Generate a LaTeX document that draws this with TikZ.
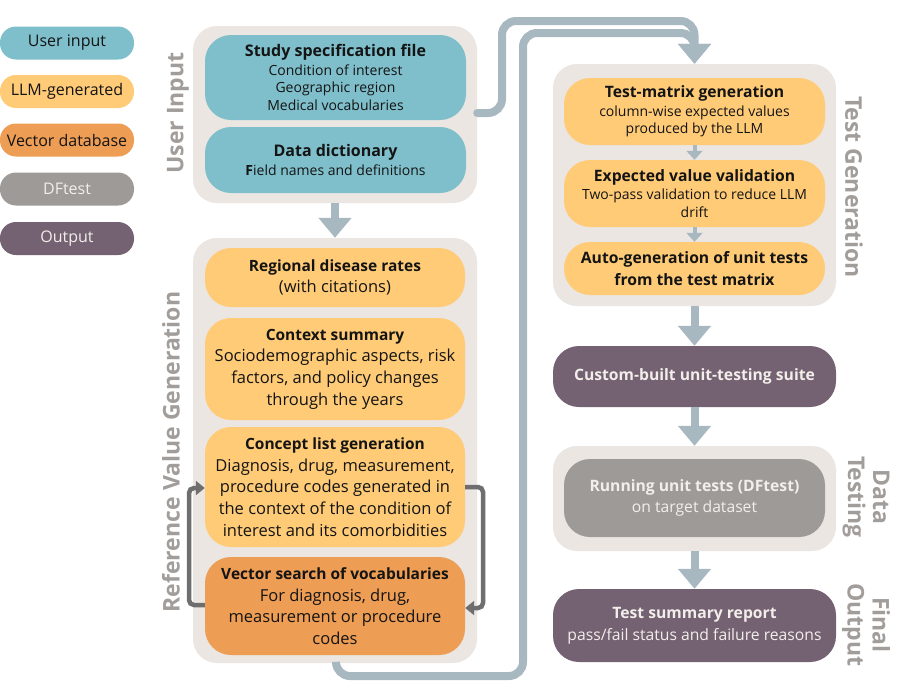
\documentclass[tikz,border=0pt]{standalone}
\usepackage{fontspec}
\setmainfont{Open Sans}
\usetikzlibrary{arrows.meta}
\definecolor{cteal}{RGB}{127,191,203}
\definecolor{cyellow}{RGB}{255,203,119}
\definecolor{corange}{RGB}{238,157,84}
\definecolor{cgray}{RGB}{158,154,151}
\definecolor{cpurple}{RGB}{116,97,114}
\definecolor{cpanel}{RGB}{235,230,226}
\definecolor{carrow}{RGB}{168,184,193}
\definecolor{clabel}{RGB}{161,157,154}
\definecolor{cloop}{RGB}{110,110,110}
\definecolor{ctext}{RGB}{20,20,20}
\definecolor{cwhite}{RGB}{242,238,234}
\tikzset{
  legendpill/.style={rounded corners=16pt, minimum width=134pt, minimum height=33pt, inner sep=0pt, font=\fontsize{16}{18}\selectfont},
  panel/.style={fill=cpanel, rounded corners=24pt, inner sep=0pt},
  box/.style={rounded corners=26pt, inner sep=0pt, align=center, text=ctext},
  bigtxt/.style={font=\fontsize{16.5}{21.7}\selectfont},
  midtxt/.style={font=\fontsize{15.7}{21.7}\selectfont},
  smalltxt/.style={font=\fontsize{14}{17.5}\selectfont},
  vlabel/.style={text=clabel, align=center, font=\bfseries\fontsize{23}{25}\selectfont},
  bigarrow/.style={draw=carrow, line width=8pt, -{Triangle[width=32pt,length=20pt]}},
  smallarrow/.style={draw=carrow, line width=4pt, -{Triangle[width=16pt,length=9pt]}},
  conn/.style={draw=carrow, line width=8pt, rounded corners=14pt, line cap=round, -{Triangle[width=32pt,length=20pt]}},
  loop/.style={draw=cloop, line width=4.5pt, rounded corners=5pt, -{Triangle[width=14pt,length=9pt]}},
}
\begin{document}
\begin{tikzpicture}[x=1pt,y=-1pt]
\useasboundingbox[fill=white] (0,0) rectangle (898,697);

% legend
\node[legendpill, fill=cteal, text=ctext] (lg1) at (67,43) {User input};
\node[legendpill, fill=cyellow, text=ctext] (lg2) at (67,91.5) {LLM-generated};
\node[legendpill, fill=corange, text=ctext] (lg3) at (67,140) {Vector database};
\node[legendpill, fill=cgray, text=cwhite] (lg4) at (67,189) {DFtest};
\node[legendpill, fill=cpurple, text=cwhite] (lg5) at (67,238.5) {Output};

% panels
\node[panel, minimum width=284pt, minimum height=177pt] (uip) at (335,114.5) {};
\node[panel, minimum width=284pt, minimum height=425pt] (rvp) at (335,450.5) {};
\node[panel, minimum width=283pt, minimum height=242pt] (tgp) at (694.5,185) {};
\node[panel, minimum width=283pt, minimum height=105pt] (dtp) at (694.5,498.5) {};

% vertical labels
\node[vlabel, rotate=90] (lui) at (178,113) {User Input};
\node[vlabel, rotate=90] (lrv) at (171,452) {Reference Value Generation};
\node[vlabel, rotate=-90] (ltg) at (854,187) {Test Generation};
\node[vlabel, rotate=-90] (ldt) at (866,497) {Data\\Testing};
\node[vlabel, rotate=-90] (lfo) at (866,625) {Final\\Output};

% user input boxes
\node[box, smalltxt, fill=cteal, minimum width=261pt, minimum height=85pt] (spec) at (335.5,77.5)
  {{\bfseries\fontsize{16}{18}\selectfont Study specification file}\\[1pt]Condition of interest\\Geographic region\\Medical vocabularies};
\node[box, smalltxt, fill=cteal, minimum width=261pt, minimum height=66pt] (dict) at (335.5,160)
  {{\bfseries\fontsize{16}{18}\selectfont Data dictionary}\\[1pt]\textbf{F}ield names and definitions};

% reference value boxes
\node[box, bigtxt, fill=cyellow, minimum width=260pt, minimum height=59pt] (reg) at (335,277.5)
  {{\bfseries\fontsize{15.5}{21.7}\selectfont Regional disease rates}\\(with citations)};
\node[box, bigtxt, fill=cyellow, minimum width=260pt, minimum height=102pt] (ctx) at (335,369)
  {{\bfseries\fontsize{15.5}{21.7}\selectfont Context summary}\\Sociodemographic aspects, risk\\factors, and policy changes\\through the years};
\node[box, bigtxt, fill=cyellow, minimum width=260pt, minimum height=120pt] (cpt) at (335,487)
  {{\bfseries\fontsize{15.5}{21.7}\selectfont Concept list generation}\\Diagnosis, drug, measurement,\\procedure codes generated in\\the context of the condition of\\interest and its comorbidities};
\node[box, bigtxt, fill=corange, minimum width=260pt, minimum height=98pt] (vec) at (335,606)
  {{\bfseries\fontsize{15.5}{21.7}\selectfont Vector search of vocabularies}\\For diagnosis, drug,\\measurement or procedure\\codes};

% test generation boxes
\node[box, smalltxt, fill=cyellow, minimum width=261pt, minimum height=67pt] (tm) at (694.5,111.5)
  {{\bfseries\fontsize{15.7}{18}\selectfont Test-matrix generation}\\[1pt]column-wise expected values\\produced by the LLM};
\node[box, smalltxt, fill=cyellow, minimum width=261pt, minimum height=67pt] (ev) at (694.5,193.5)
  {{\bfseries\fontsize{15.7}{18}\selectfont Expected value validation}\\[1pt]Two-pass validation to reduce LLM\\drift};
\node[box, fill=cyellow, minimum width=261pt, minimum height=53pt, font=\bfseries\fontsize{15.7}{22}\selectfont] (ag) at (694.5,268.5)
  {Auto-generation of unit tests\\from the test matrix};

% output / testing boxes
\node[box, fill=cpurple, text=cwhite, minimum width=283pt, minimum height=61pt, font=\bfseries\fontsize{15.7}{20}\selectfont] (cust) at (694.5,376.5)
  {Custom-built unit-testing suite};
\node[box, midtxt, fill=cgray, text=cwhite, minimum width=261pt, minimum height=78pt] (run) at (694.5,498)
  {\textbf{Running unit tests (DFtest)}\\on target dataset};
\node[box, midtxt, fill=cpurple, text=cwhite, minimum width=283pt, minimum height=73pt] (sum) at (694.5,625.5)
  {\textbf{Test summary report}\\pass/fail status and failure reasons};

% arrows
\draw[bigarrow] (uip.south) -- (rvp.north);
\draw[smallarrow] (tm.south) -- (ev.north);
\draw[smallarrow] (ev.south) -- (ag.north);
\draw[bigarrow] (tgp.south) -- (cust.north);
\draw[bigarrow] (cust.south) -- (dtp.north);
\draw[bigarrow] (dtp.south) -- (sum.north);

% long connectors
\coordinate (c1a) at (502,113);
\coordinate (c1b) at (502,21);
\coordinate (c1c) at (694.5,21);
\draw[conn] (uip.east |- c1a) -- (c1a) -- (c1b) -- (c1c) -- (tgp.north);
\coordinate (c2a) at (336,676);
\coordinate (c2b) at (523,676);
\coordinate (c2c) at (523,33);
\coordinate (c2d) at (694.5,33);
\draw[conn] (rvp.south -| c2a) -- (c2a) -- (c2b) -- (c2c) -- (c2d) -- (tgp.north);

% loop arrows
\coordinate (l1a) at (189,605);
\coordinate (l1b) at (189,488);
\draw[loop] (vec.west |- l1a) -- (l1a) -- (l1b) -- (cpt.west |- l1b);
\coordinate (l2a) at (483,487);
\coordinate (l2b) at (483,608);
\draw[loop] (cpt.east |- l2a) -- (l2a) -- (l2b) -- (vec.east |- l2b);
\end{tikzpicture}
\end{document}
